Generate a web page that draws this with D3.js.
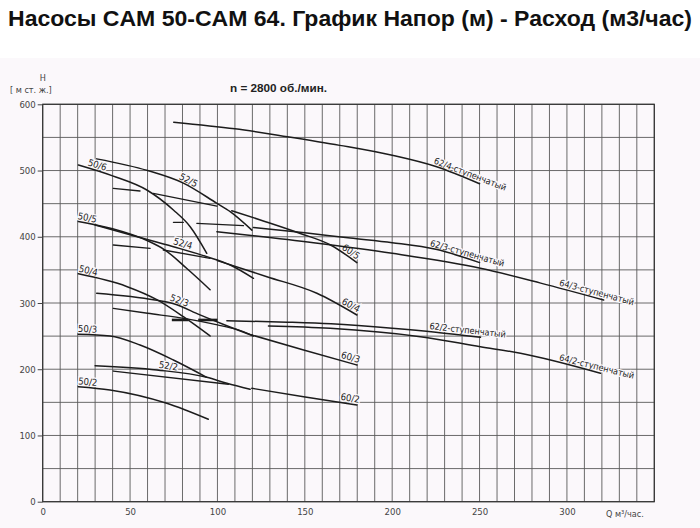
<!DOCTYPE html>
<html><head><meta charset="utf-8">
<script src="https://cdn.jsdelivr.net/npm/d3@7"></script>
<style>body{margin:0;background:#fff}</style>
</head><body><svg id="c" width="700" height="528"></svg>
<script>
// ---- data: Q (м³/час), H (м) ----
const xTicks = [0, 50, 100, 150, 200, 250, 300];
const yTicks = [0, 100, 200, 300, 400, 500, 600];

const c62_4 = [[75,573],[110,563],[140,551],[170,538],[200,523],[225,506],[250,480]];
const c52_5 = [[30.9,517.6],[60,500],[80.5,481],[99.7,450.5],[107.3,438],[119.7,410]];
const c50_6 = [[20.4,508.4],[40,492],[59.6,470.6],[74.8,440.4],[84.4,415.2],[93.9,375]];
const c60_5 = [[108.2,439.4],[125,425],[147.4,405],[164.7,387.6],[179.8,361]];
const c62_3 = [[120.6,414],[150,406],[176,398],[200,391],[225,381],[250,361]];
const c64_3 = [[99.7,407.7],[155,391],[200,375],[250.5,352.4],[285,330],[321,304.5]];
const c50_5 = [[20.4,423],[40,412],[60,394],[70,380],[82.5,352],[95.8,320]];
const c52_4 = [[30,417.8],[50,403],[74.8,385],[93.9,370],[107.3,357.4],[120.6,337.3]];
const c60_4 = [[100,364],[128.3,339.7],[156.9,314.7],[179.8,281.9]];
const c50_4 = [[20.4,344],[48,325],[65.3,305],[80.5,279.3],[95.8,250.2]];
const c52_3 = [[30.9,314.7],[64.3,304.5],[75,299],[90,282],[105,266],[120.6,250.2]];
const c62_2 = [[105.4,273.3],[140,271],[165,268.5],[200,262],[225,256],[250.5,248.2]];
const c64_2 = [[129.2,265.3],[164.5,261.8],[216.1,249.1],[250.5,234],[273.4,224.1],[319.2,193.9]];
const c60_3 = [[119.7,251.7],[149.3,229],[179.8,206.4]];
const c50_3 = [[20.4,252.7],[38.5,250.2],[55.7,236.6],[74.8,214],[93.9,187.8]];
const c52_2 = [[30,205.3],[65.3,198.9],[93.9,187.8],[105.4,178.8],[118.7,169.7]];
const c60_2 = [[119.7,171.2],[149.3,158.5],[179.8,146]];
const c50_2 = [[20.4,173.6],[38.5,168.7],[71,148.6],[94.8,124.4]];

// short operating-range segments
const seg1 = [[40.4,473.2],[55.7,469.1]];
const seg2 = [[63.3,465.6],[99.7,446.4]];
const seg3 = [[74.8,421.8],[80.5,421.8]];
const seg4 = [[88.2,420.3],[114.9,416.7]];
const seg5 = [[40.4,387.6],[61.5,382.6]];
const seg6 = [[69,380],[95.8,367.5]];
const seg7 = [[40.4,292],[60,284.5],[82.5,276],[100,267],[111,260],[120,251]];
const seg8 = [[40.4,197.3],[106.3,177.3]];
const thick1 = [[73.9,274.4],[83.4,274.4]];
const thick2 = [[89,274.4],[100,274.4]];

const curveNames = ["62/4-ступенчатый","52/5","50/6","60/5","62/3-ступенчатый","64/3-ступенчатый","50/5","52/4","60/4","50/4","52/3","62/2-ступенчатый","64/2-ступенчатый","60/3","50/3","52/2","60/2","50/2"];
const curveData  = [c62_4,c52_5,c50_6,c60_5,c62_3,c64_3,c50_5,c52_4,c60_4,c50_4,c52_3,c62_2,c64_2,c60_3,c50_3,c52_2,c60_2,c50_2];
const labelQ     = [223,77,25,170,221,295,19.5,74,170,20,72,221,295,170,20,66,170,20];
const segments = [seg1,seg2,seg3,seg4,seg5,seg6,seg7,seg8];
const thickSegments = [thick1,thick2];

// ---- drawing ----
const BG = "#fbf8fb";
const svg = d3.select("#c");
svg.append("rect").attr("x",0).attr("y",58).attr("width",700).attr("height",470).attr("fill",BG);

svg.append("text").attr("x",8).attr("y",26)
  .attr("font-family","'Liberation Sans', Arial, sans-serif").attr("font-weight","bold")
  .attr("font-size",22).attr("fill","#111")
  .attr("textLength",684).attr("lengthAdjust","spacingAndGlyphs")
  .text("Насосы CAM 50-CAM 64. График Напор (м) - Расход (м3/час)");

const x = d3.scaleLinear().domain([0,350]).range([42.7,654.3]);
const y = d3.scaleLinear().domain([0,600]).range([501.7,104.3]);

const grid = svg.append("g").attr("stroke","#5a5a5a").attr("stroke-width",0.9);
grid.selectAll("line.v").data(x.ticks(35)).join("line")
  .attr("x1",d=>x(d)).attr("x2",d=>x(d)).attr("y1",y(0)).attr("y2",y(600));
grid.selectAll("line.h").data(y.ticks(12)).join("line")
  .attr("x1",x(0)).attr("x2",x(350)).attr("y1",d=>y(d)).attr("y2",d=>y(d));
svg.append("rect").attr("x",x(0)).attr("y",y(600)).attr("width",x(350)-x(0)).attr("height",y(0)-y(600))
  .attr("fill","none").attr("stroke","#333").attr("stroke-width",1.2);

const tickFont = "'DejaVu Sans Condensed', Roboto, 'Liberation Sans Narrow', sans-serif";
const ya = svg.append("g").attr("transform",`translate(${x(0)},0)`)
  .call(d3.axisLeft(y).tickValues(yTicks).tickSize(5).tickPadding(2));
ya.select(".domain").remove();
ya.selectAll("line").attr("stroke","#444");
ya.selectAll("text").attr("font-family",tickFont).attr("font-size",9.5).attr("fill","#444");

const xa = svg.append("g").attr("transform",`translate(0,${y(0)})`)
  .call(d3.axisBottom(x).tickValues(xTicks).tickSize(0).tickPadding(7));
xa.select(".domain").remove();
xa.selectAll("text").attr("font-family",tickFont).attr("font-size",9.5).attr("fill","#444");

svg.append("text").attr("x",x(0)).attr("y",81).attr("text-anchor","middle")
  .attr("font-family",tickFont).attr("font-size",9).attr("fill","#444").text("H");
svg.append("text").attr("x",10).attr("y",93)
  .attr("font-family",tickFont).attr("font-size",9).attr("fill","#444").text("[ м ст. ж.]");
svg.append("text").attr("x",230).attr("y",92)
  .attr("font-family","'Liberation Sans', Arial, sans-serif").attr("font-weight","bold")
  .attr("font-size",11).attr("fill","#222").attr("textLength",97).attr("lengthAdjust","spacingAndGlyphs")
  .text("n = 2800 об./мин.");
svg.append("text").attr("x",606).attr("y",517)
  .attr("font-family",tickFont).attr("font-size",9).attr("fill","#444").text("Q  м³/час.");

function hAt(pts,q){
  if(q<=pts[0][0]) return pts[0][1];
  for(let i=1;i<pts.length;i++){
    if(q<=pts[i][0]){
      const t=(q-pts[i-1][0])/(pts[i][0]-pts[i-1][0]);
      return pts[i-1][1]+t*(pts[i][1]-pts[i-1][1]);
    }
  }
  return pts[pts.length-1][1];
}

// labels (with halo to break the grid)
const lab = svg.append("g");
curveNames.forEach((name,i)=>{
  const pts = curveData[i];
  const q0 = labelQ[i];
  const long = name.length>6;
  const span = long ? 28 : 10;
  const qEnd = pts[pts.length-1][0];
  const qa = Math.min(q0, qEnd-span*0.5);
  const qb = Math.min(qa+span, qEnd);
  const p1=[x(q0),y(hAt(pts,q0))], pa=[x(qa),y(hAt(pts,qa))], pb=[x(qb),y(hAt(pts,qb))];
  const ang = Math.atan2(pb[1]-pa[1], pb[0]-pa[0])*180/Math.PI;
  lab.append("text")
    .attr("transform",`translate(${p1[0]},${p1[1]}) rotate(${ang})`)
    .attr("dy",-2.5)
    .attr("font-family",tickFont).attr("font-size",long?9:9.5).attr("fill","#222")
    .attr("stroke",BG).attr("stroke-width",2.5).attr("paint-order","stroke")
    .text(name);
});

const line = d3.line().x(d=>x(d[0])).y(d=>y(d[1])).curve(d3.curveMonotoneX);
const cg = svg.append("g").attr("fill","none").attr("stroke","#1c1c1c").attr("stroke-linecap","round");
cg.selectAll("path.c").data(curveData).join("path").attr("d",line).attr("stroke-width",1.5);
cg.selectAll("path.s").data(segments).join("path").attr("d",line).attr("stroke-width",1.3);
cg.selectAll("path.t").data(thickSegments).join("path").attr("d",line).attr("stroke-width",2.6).attr("stroke-linecap","butt");
</script></body></html>
